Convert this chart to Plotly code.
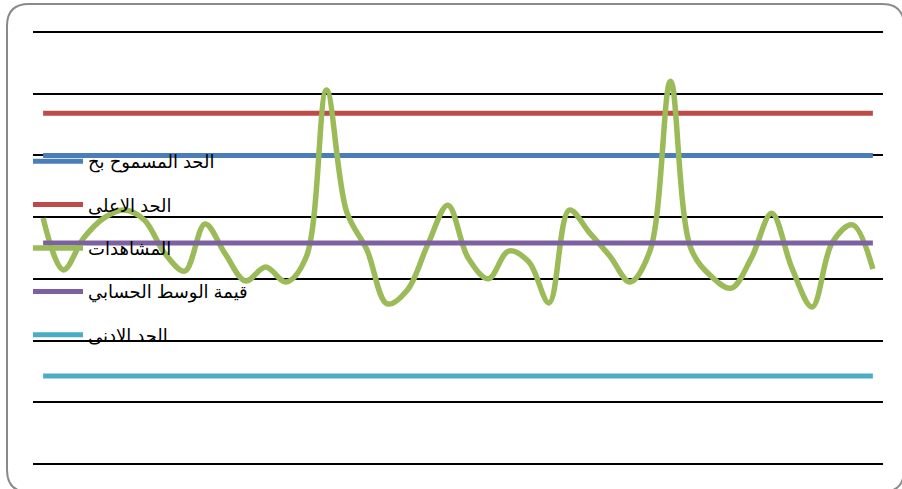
import plotly.graph_objects as go

# Observations (one value per sample) and the control limits
categories = list(range(1, 43))
observations = [
    79.7, 62.9, 73.2, 79.7, 82.3, 79.1, 68.4, 62.5, 77.8, 68.1,
    59.3, 63.8, 59.0, 67.1, 121.2, 81.7, 69.4, 51.9, 56.4, 71.0,
    83.9, 66.8, 60.0, 69.0, 65.5, 52.2, 82.3, 74.9, 67.4, 59.0,
    69.4, 124.1, 70.0, 60.9, 57.0, 66.8, 81.3, 63.5, 50.9, 71.9,
    77.5, 63.2,
]
permitted_limit = 100.0
upper_limit = 113.7
mean_value = 71.6
lower_limit = 28.5

y_ticks = [0, 20, 40, 60, 80, 100, 120, 140]

W, H = 902, 489
PL, PR = 33, 883          # plot area, horizontal pixels
PT, PB = 29, 467          # plot area, vertical pixels (range padded by 1 unit)
Y_RANGE = [-1, 141]

n = len(categories)
series = [
    ("الحد المسموح بح", [permitted_limit] * n, "#4A7EBB", "linear"),
    ("الحد الاعلى", [upper_limit] * n, "#BE4B48", "linear"),
    ("المشاهدات", observations, "#9BBB59", "spline"),
    ("قيمة الوسط الحسابي", [mean_value] * n, "#7D60A0", "linear"),
    ("الحد الادنى", [lower_limit] * n, "#4BACC6", "linear"),
]

fig = go.Figure()
for i, (name, ys, color, shape) in enumerate(series):
    fig.add_trace(go.Scatter(
        x=categories, y=ys, name=name, mode="lines",
        line=dict(color=color, width=5.5 if shape == "spline" else 5,
                  shape=shape, smoothing=1.0),
        legendgroup=f"g{i}",
    ))


def px_x(px):
    return (px - PL) / (PR - PL)


def px_y(py):
    return (PB - py) / (PB - PT)


# rounded outer frame
x0, x1, y0, y1, r = 7, 904, 4, 492, 22
frame = (
    f"M {px_x(x0 + r)},{px_y(y0)} L {px_x(x1 - r)},{px_y(y0)} "
    f"Q {px_x(x1)},{px_y(y0)} {px_x(x1)},{px_y(y0 + r)} "
    f"L {px_x(x1)},{px_y(y1 - r)} "
    f"Q {px_x(x1)},{px_y(y1)} {px_x(x1 - r)},{px_y(y1)} "
    f"L {px_x(x0 + r)},{px_y(y1)} "
    f"Q {px_x(x0)},{px_y(y1)} {px_x(x0)},{px_y(y1 - r)} "
    f"L {px_x(x0)},{px_y(y0 + r)} "
    f"Q {px_x(x0)},{px_y(y0)} {px_x(x0 + r)},{px_y(y0)} Z"
)
fig.add_shape(type="path", path=frame, xref="paper", yref="paper",
              line=dict(color="#8A8A8A", width=2), layer="below")

fig.update_layout(
    width=W, height=H,
    margin=dict(l=PL, r=W - PR, t=PT, b=H - PB, pad=0, autoexpand=False),
    paper_bgcolor="white", plot_bgcolor="white",
    font=dict(family="Liberation Sans, DejaVu Sans, Arial", size=18, color="black"),
    showlegend=True,
    legend=dict(
        xref="paper", yref="paper",
        x=px_x(28), y=px_y(143), xanchor="left", yanchor="top",
        bgcolor="rgba(0,0,0,0)", borderwidth=0,
        traceorder="grouped", tracegroupgap=17, itemwidth=50,
        font=dict(size=18, color="black"),
    ),
    xaxis=dict(range=[0.5, n + 0.5], showgrid=False, zeroline=False,
               showticklabels=False, showline=False, ticks=""),
    yaxis=dict(range=Y_RANGE, tickvals=y_ticks,
               showgrid=True, gridcolor="black", gridwidth=1.6,
               zeroline=False, showticklabels=False, showline=False, ticks=""),
)

fig.write_html("out.html")
